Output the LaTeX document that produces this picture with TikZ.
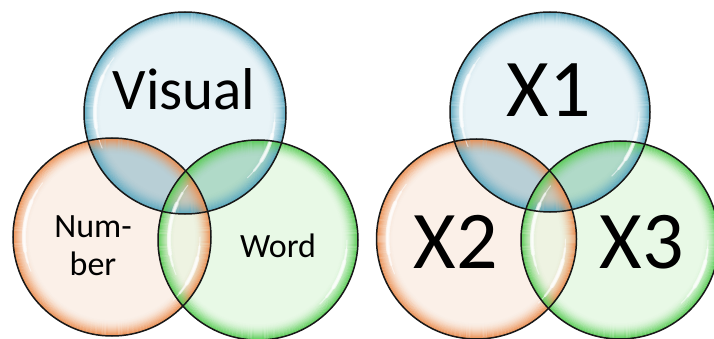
\documentclass[tikz,border=0pt]{standalone}
\usepackage{fontspec}
\setmainfont{Carlito}
\usetikzlibrary{calc}
\definecolor{bluein}{HTML}{E8F3F7}
\definecolor{bluerim}{HTML}{5AA8C0}
\definecolor{orangein}{HTML}{FBF0E8}
\definecolor{orangerim}{HTML}{EC8E50}
\definecolor{greenin}{HTML}{E8F9E6}
\definecolor{greenrim}{HTML}{58CC54}
\definecolor{lensab}{HTML}{B8CFD6}
\definecolor{lensac}{HTML}{B0DAC8}
\definecolor{lensbc}{HTML}{EEF3E2}
\definecolor{lensabc}{HTML}{C8C8BA}
\definecolor{outline}{HTML}{181818}
\tikzset{
  outl/.style={draw=outline, line width=1.5pt},
  lbl/.style={anchor=base, inner sep=0pt, text=black},
  glint/.style={white, line cap=round},
}
\newcommand\rimring[3]{%
  \foreach \k in {0,...,15}{%
    \pgfmathsetmacro\rr{#2-0.6-\k}%
    \pgfmathsetmacro\oo{0.95*(1-\k/16)^2}%
    \draw[#3, line width=1.1pt, draw opacity=\oo] (#1) circle (\rr pt);}}
\newcommand\glintarc[4]{%
  \pgfmathsetmacro\gr{#2-11}%
  \pgfmathsetmacro\sa{#3-8}\pgfmathsetmacro\ea{#4+8}%
  \draw[glint, line width=1pt, opacity=.55] ($(#1)+(\sa:\gr pt)$) arc[start angle=\sa, end angle=\ea, radius=\gr pt];
  \pgfmathsetmacro\sa{#3-2}\pgfmathsetmacro\ea{#4+2}%
  \draw[glint, line width=2.4pt, opacity=.55] ($(#1)+(\sa:\gr pt)$) arc[start angle=\sa, end angle=\ea, radius=\gr pt];
  \pgfmathsetmacro\sa{#3+6}\pgfmathsetmacro\ea{#4-6}%
  \draw[glint, line width=4pt, opacity=.6] ($(#1)+(\sa:\gr pt)$) arc[start angle=\sa, end angle=\ea, radius=\gr pt];
}
% #1 prefix, #2 #3 #4 radii of A (blue), B (orange), C (green)
\newcommand\drawvenn[4]{%
  \fill[bluein] (#1A) circle (#2pt);
  \fill[orangein] (#1B) circle (#3pt);
  \fill[greenin] (#1C) circle (#4pt);
  \begin{scope}\clip (#1A) circle (#2pt); \fill[lensab] (#1B) circle (#3pt); \fill[lensac] (#1C) circle (#4pt);\end{scope}
  \begin{scope}\clip (#1B) circle (#3pt); \fill[lensbc] (#1C) circle (#4pt);\end{scope}
  \begin{scope}\clip (#1A) circle (#2pt); \clip (#1B) circle (#3pt); \fill[lensabc] (#1C) circle (#4pt);\end{scope}
  \rimring{#1A}{#2}{bluerim}
  \rimring{#1B}{#3}{orangerim}
  \rimring{#1C}{#4}{greenrim}
  \glintarc{#1A}{#2}{150}{195}\glintarc{#1A}{#2}{-38}{-8}
  \glintarc{#1B}{#3}{150}{195}\glintarc{#1B}{#3}{-38}{-8}
  \glintarc{#1C}{#4}{150}{195}\glintarc{#1C}{#4}{-38}{-8}
  \draw[outl] (#1A) circle (#2pt);
  \draw[outl] (#1B) circle (#3pt);
  \draw[outl] (#1C) circle (#4pt);
}
\begin{document}
\begin{tikzpicture}[x=1pt, y=-1pt]
  \useasboundingbox (0,0) rectangle (714,339);
  \fill[white] (0,0) rectangle (714,339);
  \coordinate (lA) at (185,113);
  \coordinate (lB) at (112,237);
  \coordinate (lC) at (258,240);
  \coordinate (rA) at (550,112);
  \coordinate (rB) at (476.5,239);
  \coordinate (rC) at (620,240);
  \drawvenn{l}{101}{99}{100}
  \drawvenn{r}{100}{100}{99}
  \node[lbl, font=\fontsize{59}{59}\selectfont] (visual) at (184,110) {Visual};
  \node[lbl, font=\fontsize{34}{34}\selectfont] (num) at (93,237) {Num-};
  \node[lbl, font=\fontsize{34}{34}\selectfont] (ber) at (93,275) {ber};
  \node[lbl, font=\fontsize{34}{34}\selectfont] (word) at (278,257) {Word};
  \node[lbl, font=\fontsize{82}{82}\selectfont] (x1) at (549,117) {X1};
  \node[lbl, font=\fontsize{82}{82}\selectfont] (x2) at (455.5,268) {X2};
  \node[lbl, font=\fontsize{82}{82}\selectfont] (x3) at (641.5,268) {X3};
\end{tikzpicture}
\end{document}
